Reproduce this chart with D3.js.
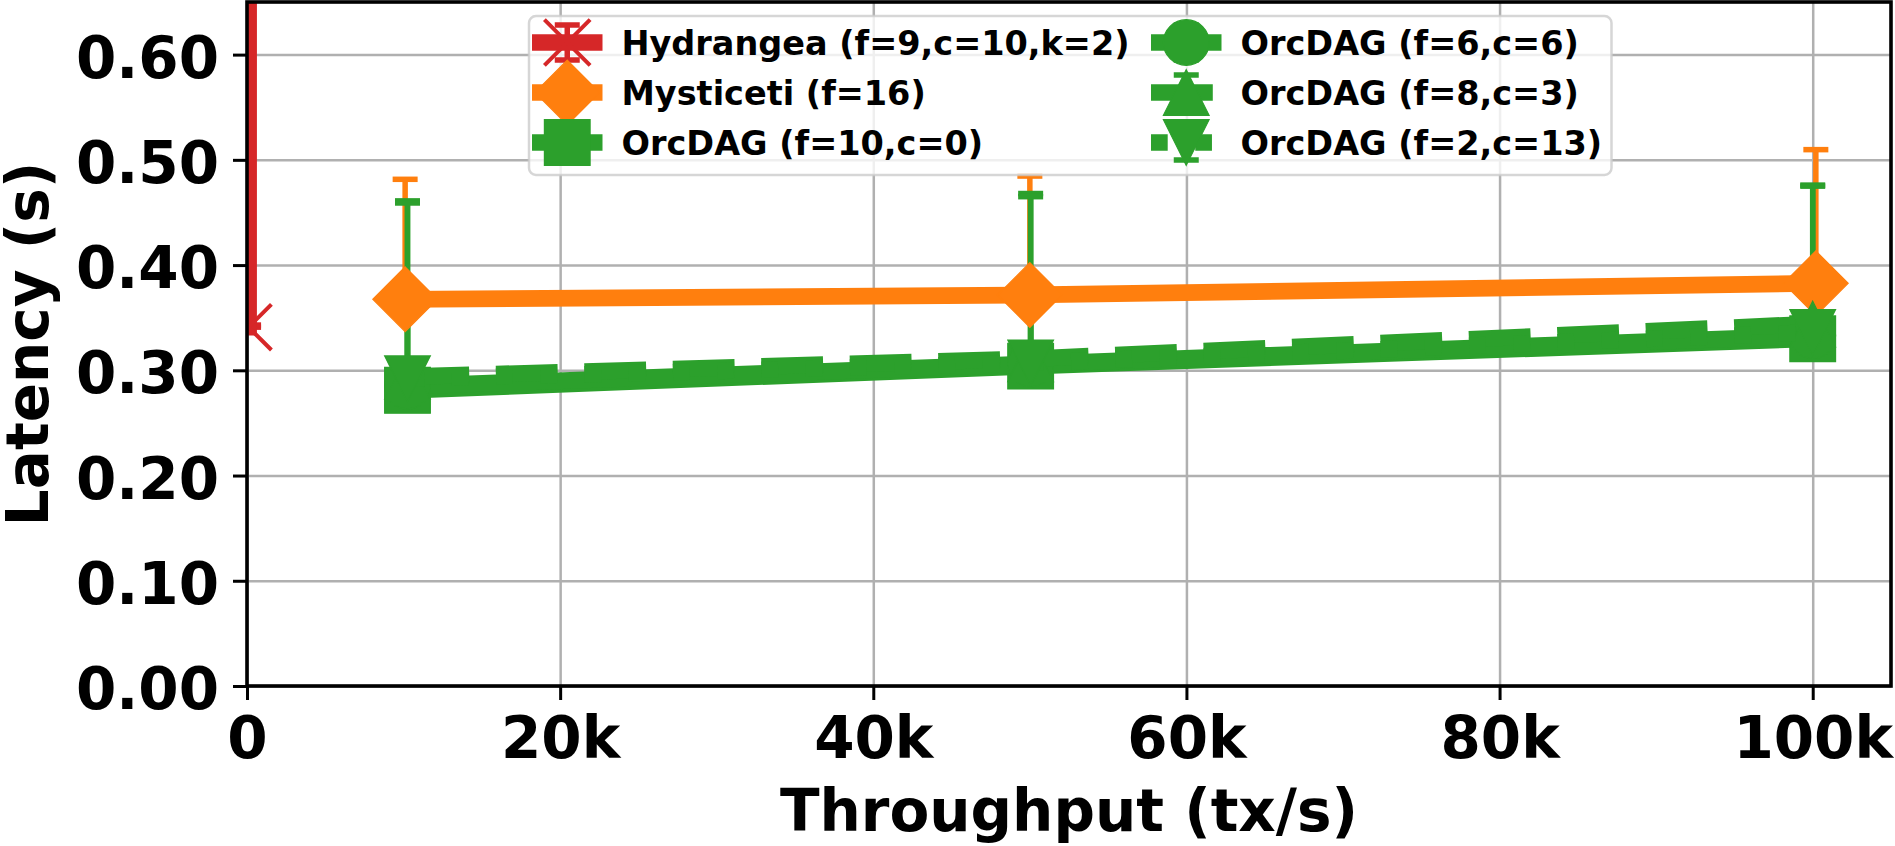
<!DOCTYPE html>
<html><head><meta charset="utf-8">
<script src="https://cdn.jsdelivr.net/npm/d3@7/dist/d3.min.js"></script>
<style>
html,body{margin:0;padding:0;background:#fff;}
svg{display:block;}
text{font-family:"DejaVu Sans",sans-serif;font-weight:bold;fill:#000;}
</style></head><body>
<svg id="chart" width="1895" height="846"></svg>
<script>
// ---------------- data ----------------
const xTickValues = [0, 20000, 40000, 60000, 80000, 100000];
const xTickLabels = ["0", "20k", "40k", "60k", "80k", "100k"];
const yTickValues = [0.0, 0.1, 0.2, 0.3, 0.4, 0.5, 0.6];
const yTickLabels = ["0.00", "0.10", "0.20", "0.30", "0.40", "0.50", "0.60"];

const seriesNames = ["Hydrangea (f=9,c=10,k=2)", "Mysticeti (f=16)", "OrcDAG (f=10,c=0)",
                     "OrcDAG (f=6,c=6)", "OrcDAG (f=8,c=3)", "OrcDAG (f=2,c=13)"];

// latency with upper-only error (lower error is zero)
const hydrangeaThroughput = [100, 105, 110];
const hydrangeaLatency    = [0.341, 1.9, 4.2];
const hydrangeaErrUp      = [0.002, 0.3, 0.6];

const mysticetiThroughput = [10100, 50000, 100200];
const mysticetiLatency    = [0.3675, 0.3716, 0.3827];
const mysticetiErrUp      = [0.114, 0.113, 0.127];

const orcThroughput = [10250, 50050, 100000];
const orcF10C0Latency = [0.281, 0.304, 0.330];
const orcF10C0ErrUp   = [0.180, 0.164, 0.146];
const orcF6C6Latency  = [0.285, 0.306, 0.333];
const orcF6C6ErrUp    = [0.083, 0.066, 0.049];
const orcF8C3Latency  = [0.294, 0.311, 0.344];
const orcF8C3ErrUp    = [0.078, 0.065, 0.042];
const orcF2C13Latency = [0.292, 0.307, 0.336];
const orcF2C13ErrUp   = [0.167, 0.158, 0.139];

// ---------------- styles ----------------
const RED = "#d62728", ORANGE = "#ff7f0e", GREEN = "#2ca02c";
const LW = 16.7, MS = 45.7, ELW = 5.5, CAPW = 25, CAPT = 5.5;
const dashes = {
  "-": null,
  "--": [3.7 * LW, 1.6 * LW],
  ":": [1 * LW, 1.65 * LW],
  "-.": [6.4 * LW, 1.6 * LW, 1 * LW, 1.6 * LW]
};

const series = [
  {name: seriesNames[0], x: hydrangeaThroughput, y: hydrangeaLatency, e: hydrangeaErrUp, color: RED, marker: "x", ls: "-"},
  {name: seriesNames[1], x: mysticetiThroughput, y: mysticetiLatency, e: mysticetiErrUp, color: ORANGE, marker: "D", ls: "-"},
  {name: seriesNames[2], x: orcThroughput, y: orcF10C0Latency, e: orcF10C0ErrUp, color: GREEN, marker: "s", ls: "-"},
  {name: seriesNames[3], x: orcThroughput, y: orcF6C6Latency, e: orcF6C6ErrUp, color: GREEN, marker: "o", ls: "-"},
  {name: seriesNames[4], x: orcThroughput, y: orcF8C3Latency, e: orcF8C3ErrUp, color: GREEN, marker: "^", ls: "--"},
  {name: seriesNames[5], x: orcThroughput, y: orcF2C13Latency, e: orcF2C13ErrUp, color: GREEN, marker: "v", ls: ":"}
];

// ---------------- layout ----------------
const plot = {left: 247, right: 1891, top: 2, bottom: 686};
const svg = d3.select("#chart");

const x = d3.scaleLinear().domain([0, 105000]).range([plot.left, plot.right]);
const y = d3.scaleLinear().domain([0, 0.65]).range([plot.bottom, plot.top]);

function markerPath(type, s) {
  const h = s / 2;
  switch (type) {
    case "s": return `M${-h},${-h}H${h}V${h}H${-h}Z`;
    case "D": { const d = s * Math.SQRT2 / 2; return `M0,${-d}L${d},0L0,${d}L${-d},0Z`; }
    case "o": return `M${h},0A${h},${h} 0 1,1 ${-h},0A${h},${h} 0 1,1 ${h},0Z`;
    case "^": return `M0,${-h}L${h},${h}L${-h},${h}Z`;
    case "v": return `M0,${h}L${h},${-h}L${-h},${-h}Z`;
    case "x": return `M${-h},${-h}L${h},${h}M${-h},${h}L${h},${-h}`;
  }
}
function styleMarker(sel, s) {
  if (s.marker === "x") {
    sel.attr("fill", "none").attr("stroke", s.color).attr("stroke-width", 4);
  } else {
    sel.attr("fill", s.color).attr("stroke", s.color).attr("stroke-width", 1.2);
  }
}

// clip
svg.append("defs").append("clipPath").attr("id", "plotclip")
  .append("rect").attr("x", plot.left).attr("y", plot.top)
  .attr("width", plot.right - plot.left).attr("height", plot.bottom - plot.top);

// grid
const gridG = svg.append("g");
gridG.append("g").attr("transform", `translate(0,${plot.bottom})`)
  .call(d3.axisBottom(x).tickValues(xTickValues).tickSize(-(plot.bottom - plot.top)).tickFormat(""))
  .call(g => g.select(".domain").remove())
  .call(g => g.selectAll("line").attr("stroke", "#b0b0b0").attr("stroke-width", 2.5));
gridG.append("g").attr("transform", `translate(${plot.left},0)`)
  .call(d3.axisLeft(y).tickValues(yTickValues).tickSize(-(plot.right - plot.left)).tickFormat(""))
  .call(g => g.select(".domain").remove())
  .call(g => g.selectAll("line").attr("stroke", "#b0b0b0").attr("stroke-width", 2.5));

const dataG = svg.append("g").attr("clip-path", "url(#plotclip)");

// error bars (upper only; drawn beneath all data lines)
series.forEach(s => {
  const g = dataG.append("g");
  s.x.forEach((xv, i) => {
    const cx = x(xv), y0 = y(s.y[i]), y1 = y(s.y[i] + s.e[i]);
    g.append("line").attr("x1", cx).attr("x2", cx).attr("y1", y0).attr("y2", y1)
      .attr("stroke", s.color).attr("stroke-width", ELW);
    [y0, y1].forEach(cy => g.append("line")
      .attr("x1", cx - CAPW / 2).attr("x2", cx + CAPW / 2).attr("y1", cy).attr("y2", cy)
      .attr("stroke", s.color).attr("stroke-width", CAPT));
  });
});

// data lines with markers
const lineGen = d3.line().x(d => x(d[0])).y(d => y(d[1]));
series.forEach(s => {
  const g = dataG.append("g");
  const pts = s.x.map((xv, i) => [xv, s.y[i]]);
  const p = g.append("path").attr("d", lineGen(pts)).attr("fill", "none")
    .attr("stroke", s.color).attr("stroke-width", LW).attr("stroke-linejoin", "round");
  if (dashes[s.ls]) p.attr("stroke-dasharray", dashes[s.ls].join(",")).attr("stroke-linecap", "butt");
  else p.attr("stroke-linecap", "square");
  g.selectAll("path.m").data(pts).join("path").attr("class", "m")
    .attr("transform", d => `translate(${x(d[0])},${y(d[1])})`)
    .attr("d", markerPath(s.marker, MS))
    .call(sel => styleMarker(sel, s));
});

// spines
svg.append("rect").attr("x", plot.left).attr("y", plot.top)
  .attr("width", plot.right - plot.left).attr("height", plot.bottom - plot.top)
  .attr("fill", "none").attr("stroke", "#000").attr("stroke-width", 3.6);

// axes ticks + labels
const xAxis = svg.append("g").attr("transform", `translate(0,${plot.bottom})`)
  .call(d3.axisBottom(x).tickValues(xTickValues).tickFormat((d, i) => xTickLabels[i])
    .tickSize(14).tickSizeOuter(0).tickPadding(17));
xAxis.select(".domain").remove();
xAxis.selectAll("line").attr("stroke", "#000").attr("stroke-width", 3);
xAxis.selectAll("text").attr("font-size", 58).attr("font-family", "DejaVu Sans").attr("font-weight", "bold").attr("fill", "#000");

const yAxis = svg.append("g").attr("transform", `translate(${plot.left},0)`)
  .call(d3.axisLeft(y).tickValues(yTickValues).tickFormat((d, i) => yTickLabels[i])
    .tickSize(14).tickSizeOuter(0).tickPadding(14));
yAxis.select(".domain").remove();
yAxis.selectAll("line").attr("stroke", "#000").attr("stroke-width", 3);
yAxis.selectAll("text").attr("font-size", 58).attr("dy", "0.39em").attr("font-family", "DejaVu Sans").attr("font-weight", "bold").attr("fill", "#000");

// axis titles
svg.append("text").attr("x", (plot.left + plot.right) / 2).attr("y", 831)
  .attr("text-anchor", "middle").attr("font-size", 58).text("Throughput (tx/s)");
svg.append("text").attr("transform", `translate(48,${(plot.top + plot.bottom) / 2}) rotate(-90)`)
  .attr("text-anchor", "middle").attr("font-size", 58).text("Latency (s)");

// legend
const leg = svg.append("g");
leg.append("rect").attr("x", 529).attr("y", 16).attr("width", 1082.5).attr("height", 159)
  .attr("rx", 7).attr("fill", "#fff").attr("fill-opacity", 0.8)
  .attr("stroke", "#cccccc").attr("stroke-opacity", 0.8).attr("stroke-width", 2.5);
const colX = [532, 1151], rowY = [42.5, 92.5, 142.5], HANDLE = 70.5, TEXTGAP = 19;
series.forEach((s, i) => {
  const col = Math.floor(i / 3), row = i % 3;
  const x0 = colX[col], cy = rowY[row], cx = x0 + HANDLE / 2;
  const g = leg.append("g");
  const eh = 17.5;
  g.append("line").attr("x1", cx).attr("x2", cx).attr("y1", cy - eh).attr("y2", cy + eh)
    .attr("stroke", s.color).attr("stroke-width", ELW);
  [cy - eh, cy + eh].forEach(yy => g.append("line").attr("x1", cx - CAPW / 2).attr("x2", cx + CAPW / 2)
    .attr("y1", yy).attr("y2", yy).attr("stroke", s.color).attr("stroke-width", CAPT));
  const l = g.append("line").attr("x1", x0).attr("x2", x0 + HANDLE).attr("y1", cy).attr("y2", cy)
    .attr("stroke", s.color).attr("stroke-width", LW).attr("stroke-linecap", "butt");
  if (dashes[s.ls]) l.attr("stroke-dasharray", dashes[s.ls].join(","));
  g.append("path").attr("transform", `translate(${cx},${cy})`).attr("d", markerPath(s.marker, MS))
    .call(sel => styleMarker(sel, s));
  g.append("text").attr("x", x0 + HANDLE + TEXTGAP).attr("y", cy + 12.3)
    .attr("font-size", 33.5).text(s.name);
});
</script>
</body></html>
